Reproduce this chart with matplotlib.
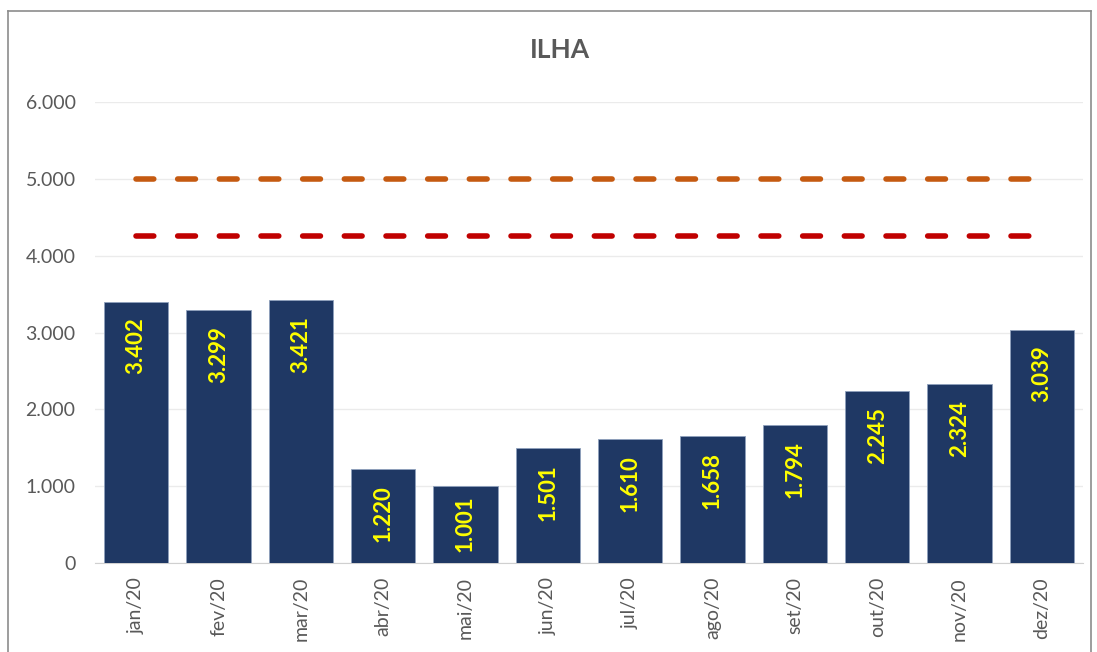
import matplotlib.pyplot as plt
from matplotlib.lines import Line2D
from matplotlib.ticker import FuncFormatter

# monthly values
months = ['jan/20', 'fev/20', 'mar/20', 'abr/20', 'mai/20', 'jun/20',
          'jul/20', 'ago/20', 'set/20', 'out/20', 'nov/20', 'dez/20']
values = [3402, 3299, 3421, 1220, 1001, 1501, 1610, 1658, 1794, 2245, 2324, 3039]
limit_upper = 5000
limit_lower = 4250

plt.rcParams['font.family'] = ['Lato', 'DejaVu Sans']

fig = plt.figure(figsize=(10.97, 6.52), dpi=100)
ax = fig.add_axes([95/1097, 1 - 563/652, (1083 - 95)/1097, (563 - 102)/652])

x = list(range(len(months)))
ax.bar(x, values, width=0.78, color='#1F3864', edgecolor='#8EA0BC', linewidth=0.6, zorder=3)

dash = (3.2, 4.3)
ax.plot([x[0], x[-1]], [limit_upper]*2, color='#C55A11', lw=4.0, dashes=dash,
        dash_capstyle='round', zorder=4)
ax.plot([x[0], x[-1]], [limit_lower]*2, color='#C00000', lw=4.0, dashes=dash,
        dash_capstyle='round', zorder=4)

# data labels inside end of bars (pushed up a bit on short bars)
for xi, v in zip(x, values):
    lab = '{:,}'.format(v).replace(',', '.')
    top = max(v - 210, 880)
    ax.text(xi, top, lab, rotation=90, ha='center', va='top', color='#FFFF00',
            fontsize=16, fontweight='bold', zorder=5)

ax.set_xlim(-0.5, len(months) - 0.5)
ax.set_ylim(0, 6000)
ax.set_yticks(range(0, 6001, 1000))
ax.yaxis.set_major_formatter(FuncFormatter(lambda v, p: '{:,}'.format(int(v)).replace(',', '.')))
ax.set_xticks(x)
ax.set_xticklabels(months, rotation=90)
ax.tick_params(axis='both', length=0, colors='#595959', labelsize=14)
ax.tick_params(axis='x', pad=10)
ax.tick_params(axis='y', pad=14)

ax.grid(axis='y', color='#EBEBEB', lw=1, zorder=0)
for s in ['top', 'right', 'left']:
    ax.spines[s].set_visible(False)
ax.spines['bottom'].set_color('#D0D0D0')

fig.text(560/1097, 1 - 50/652, 'ILHA', ha='center', va='center', fontsize=19,
         fontweight='bold', color='#595959')

# outer chart frame
fig.add_artist(Line2D([8/1097, 8/1097], [0, 1 - 11/652], color='#8C8C8C', lw=1.2))
fig.add_artist(Line2D([8/1097, 1091/1097], [1 - 11/652, 1 - 11/652], color='#8C8C8C', lw=1.2))
fig.add_artist(Line2D([1091/1097, 1091/1097], [0, 1 - 11/652], color='#8C8C8C', lw=1.2))

fig.savefig('out.png', dpi=100)
